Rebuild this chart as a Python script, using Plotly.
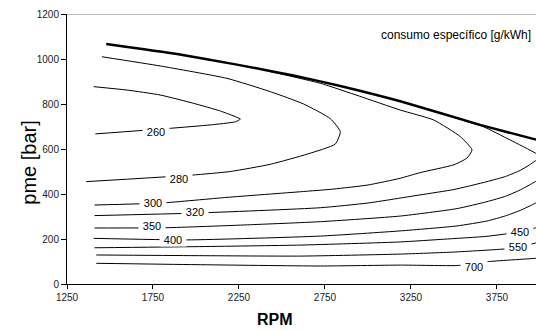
import plotly.graph_objects as go

# Full-load curve (thick)
full_rpm = [1478, 1890, 2238, 2566, 2839, 3188, 3652, 3961, 4010]
full_pme = [1067, 1022, 975, 927, 880, 812, 707, 645, 636]

# Iso-consumption contours (g/kWh)
c260_rpm = [1405, 1599, 1792, 1986, 2141, 2238, 2258, 2229, 2083, 1851, 1415]
c260_pme = [877, 862, 840, 803, 769, 741, 733, 721, 707, 692, 667]

c280_rpm = [1453, 1792, 2180, 2432, 2626, 2781, 2839, 2810, 2650, 2432, 2200, 1977, 1362]
c280_pme = [1010, 969, 914, 855, 800, 735, 677, 622, 578, 532, 500, 484, 455]

c300_rpm = [1410, 1800, 2180, 2607, 2800, 3000, 3188, 3303, 3500, 3576, 3605, 3537, 3382, 3188, 2950, 2723, 2432]
c300_pme = [351, 360, 385, 410, 422, 440, 470, 495, 530, 560, 596, 655, 729, 773, 835, 892, 944]

c320_rpm = [1410, 1990, 2723, 3000, 3303, 3500, 3692, 3800, 3885, 3940, 4000, 3973, 3827, 3671, 3560]
c320_pme = [304, 315, 339, 360, 396, 420, 455, 478, 505, 530, 565, 582, 640, 699, 725]

c350_rpm = [1410, 1821, 2300, 2723, 3188, 3517, 3692, 3800, 3885, 3973, 4010]
c350_pme = [249, 250, 263, 277, 302, 335, 366, 390, 418, 455, 475]

c400_rpm = [1405, 1948, 2723, 3188, 3517, 3692, 3800, 3885, 3973, 4010]
c400_pme = [203, 196, 213, 236, 258, 280, 303, 327, 359, 375]

c450_rpm = [1410, 2000, 2607, 3188, 3440, 3692, 3885, 3973, 4010]
c450_pme = [161, 166, 173, 187, 199, 212, 232, 249, 256]

c550_rpm = [1420, 2000, 2607, 3188, 3500, 3800, 3875, 3973, 4010]
c550_pme = [129, 126, 124, 133, 142, 156, 163, 182, 188]

c700_rpm = [1420, 2000, 2723, 3188, 3517, 3618, 3692, 3973, 4010]
c700_pme = [92, 86, 80, 84, 82, 90, 99, 114, 116]

label_text = ["260", "280", "300", "320", "350", "400", "450", "550", "700"]
label_rpm = [1769, 1899, 1749, 1996, 1744, 1866, 3885, 3875, 3618]
label_pme = [677, 465, 361, 319, 259, 196, 232, 163, 74]

x_ticks = [1250, 1750, 2250, 2750, 3250, 3750]
y_ticks = [0, 200, 400, 600, 800, 1000, 1200]

FONT = "Liberation Sans, Arial, sans-serif"

fig = go.Figure()
contours = [
    (c260_rpm, c260_pme), (c280_rpm, c280_pme), (c300_rpm, c300_pme),
    (c320_rpm, c320_pme), (c350_rpm, c350_pme), (c400_rpm, c400_pme),
    (c450_rpm, c450_pme), (c550_rpm, c550_pme), (c700_rpm, c700_pme),
]
for xs, ys in contours:
    fig.add_trace(go.Scatter(x=xs, y=ys, mode="lines",
                             line=dict(color="black", width=1, shape="spline", smoothing=0.5),
                             showlegend=False, hoverinfo="skip"))
fig.add_trace(go.Scatter(x=full_rpm, y=full_pme, mode="lines",
                         line=dict(color="black", width=2.5, shape="spline", smoothing=0.5),
                         showlegend=False, hoverinfo="skip"))

for t, xv, yv in zip(label_text, label_rpm, label_pme):
    fig.add_annotation(x=xv, y=yv, text=t, showarrow=False,
                       font=dict(family=FONT, size=11, color="black"),
                       bgcolor="white", width=26, height=12, borderpad=0)

fig.add_annotation(xref="paper", yref="paper", x=0.9936, y=0.922,
                   xanchor="right", yanchor="middle", showarrow=False,
                   text="consumo específico [g/kWh]",
                   font=dict(family=FONT, size=12, color="black"))
fig.add_annotation(xref="paper", yref="paper", x=-0.0817, y=0.448,
                   xanchor="center", yanchor="middle",
                   textangle=-90, showarrow=False, text="pme [bar]",
                   font=dict(family=FONT, size=20, color="black"))
fig.add_annotation(xref="paper", yref="paper", x=0.443, y=-0.133,
                   xanchor="center", yanchor="middle",
                   showarrow=False, text="<b>RPM</b>",
                   font=dict(family=FONT, size=16, color="black"))

fig.add_shape(type="line", xref="paper", yref="y", x0=0, x1=1, y0=1200, y1=1200,
              line=dict(color="#a0a0a0", width=1.5))

fig.update_xaxes(range=[1250, 3977], tickvals=x_ticks, showgrid=False, zeroline=False,
                 showline=True, linecolor="black", linewidth=1,
                 ticks="outside", ticklen=4, tickcolor="black",
                 tickfont=dict(family=FONT, size=10, color="#222"))
fig.update_yaxes(range=[0, 1200], tickvals=y_ticks, showgrid=False, zeroline=False,
                 showline=True, linecolor="black", linewidth=1,
                 ticks="outside", ticklen=5, tickcolor="black",
                 tickfont=dict(family=FONT, size=10, color="#222"))

fig.update_layout(width=536, height=331, margin=dict(l=67, r=0, t=14, b=47),
                  plot_bgcolor="white", paper_bgcolor="white", showlegend=False)

fig.write_html("out.html")
